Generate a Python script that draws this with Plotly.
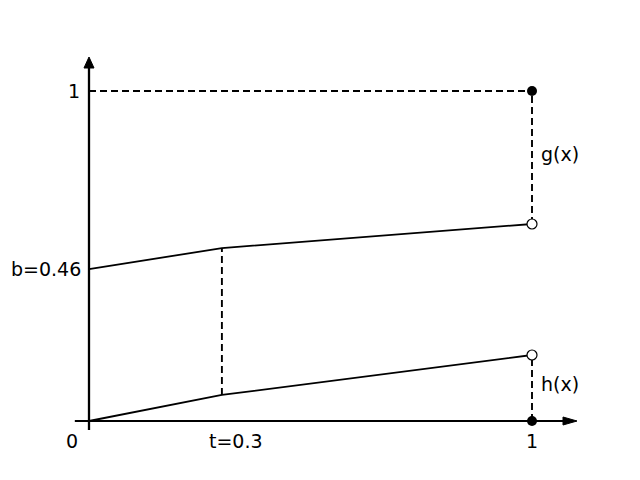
import plotly.graph_objects as go

# piecewise-linear curves, knots at x = 0, t, 1
x_knots = [0, 0.3, 1]
g_vals = [0.46, 0.524, 0.597]
h_vals = [0.0, 0.079, 0.2]

t = 0.3
b = 0.46

line = dict(color='black', width=1.8)
dash = dict(color='black', width=1.9, dash='7px,4px')

fig = go.Figure()

# dashed guides
fig.add_trace(go.Scatter(x=[0, 1], y=[1, 1], mode='lines', line=dash))
fig.add_trace(go.Scatter(x=[1, 1], y=[g_vals[-1], 1], mode='lines', line=dash))
fig.add_trace(go.Scatter(x=[1, 1], y=[0, h_vals[-1]], mode='lines', line=dash))
fig.add_trace(go.Scatter(x=[t, t], y=[h_vals[1], g_vals[1]], mode='lines', line=dash))

# curves
fig.add_trace(go.Scatter(x=x_knots, y=g_vals, mode='lines', line=line))
fig.add_trace(go.Scatter(x=x_knots, y=h_vals, mode='lines', line=line))

# axes
fig.add_shape(type='line', x0=-0.032, x1=1.075, y0=0, y1=0,
              line=dict(color='black', width=1.8))
fig.add_shape(type='line', x0=0, x1=0, y0=-0.027, y1=1.075,
              line=dict(color='black', width=2.3))
fig.add_shape(type='path', path='M 1.07 -0.0121 L 1.1016 0 L 1.07 0.0121 Z',
              fillcolor='black', line=dict(color='black', width=1))
fig.add_shape(type='path', path='M -0.0113 1.0697 L 0 1.103 L 0.0113 1.0697 Z',
              fillcolor='black', line=dict(color='black', width=1))

# end points
fig.add_trace(go.Scatter(x=[1, 1], y=[1, 0], mode='markers',
                         marker=dict(size=10, color='black')))
fig.add_trace(go.Scatter(x=[1, 1], y=[g_vals[-1], h_vals[-1]], mode='markers',
                         marker=dict(size=10, color='white',
                                     line=dict(color='black', width=1.2))))

font = dict(family='DejaVu Sans', size=19, color='black')
labels = [
    (-0.016, 1, '1', 'right'),
    (-0.013, b, 'b=0.46', 'right'),
    (-0.038, -0.06, '0', 'center'),
    (0.332, -0.06, 't=%g' % t, 'center'),
    (1.0, -0.06, '1', 'center'),
    (1.015, 0.809, 'g(x)', 'left'),
    (1.015, 0.112, 'h(x)', 'left'),
]
for x, y, s, anchor in labels:
    fig.add_annotation(x=x, y=y, text=s, showarrow=False, xanchor=anchor,
                       yanchor='middle', font=font)

# page body has an 8px margin, so ranges are shifted to compensate
fig.update_layout(
    width=640, height=480,
    margin=dict(l=0, r=0, t=0, b=0),
    plot_bgcolor='white', paper_bgcolor='white',
    showlegend=False,
    xaxis=dict(range=[-81 / 443, 559 / 443], visible=False, fixedrange=True),
    yaxis=dict(range=[-67 / 330, 413 / 330], visible=False, fixedrange=True),
)

fig.write_html('out.html')
